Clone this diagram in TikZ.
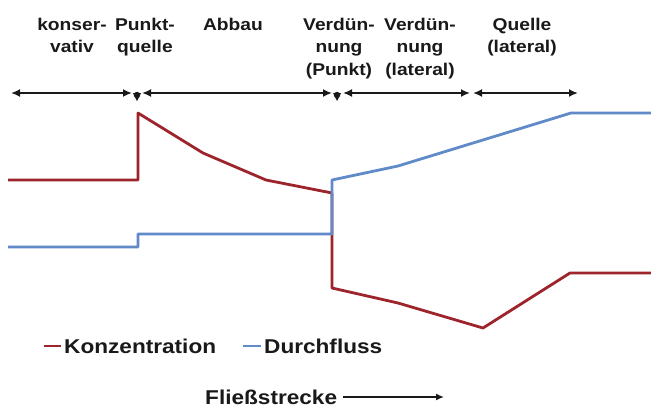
\documentclass[tikz,border=0pt]{standalone}
\usepackage{fontspec}
\setmainfont{Liberation Sans}[FakeStretch=1.13]
\usetikzlibrary{arrows.meta}
\definecolor{konz}{RGB}{158,36,44}
\definecolor{durch}{RGB}{96,138,200}
\definecolor{txt}{RGB}{25,25,25}
\tikzset{
  lbl/.style={anchor=north,align=center,inner sep=0pt,text=txt,
    font=\fontsize{17}{22.5}\selectfont\bfseries},
  leg/.style={anchor=west,inner sep=0pt,text=txt,
    font=\fontsize{20}{24}\selectfont\bfseries},
  span/.style={txt,line width=2pt,{Latex[length=9pt,width=8pt]}-{Latex[length=9pt,width=8pt]}},
  mark dot/.style={fill=txt,draw=none},
  kline/.style={konz,line width=2.8pt,line join=round},
  dline/.style={durch,line width=2.8pt,line join=round},
}
\begin{document}
\begin{tikzpicture}[x=1pt,y=-1pt]
\useasboundingbox[fill=white] (0,0) rectangle (651,410);
% header labels
\node[lbl] (l1) at (72,17.5) {konser-\\vativ};
\node[lbl] (l2) at (145,17.5) {Punkt-\\quelle};
\node[lbl] (l3) at (233,17.5) {Abbau};
\node[lbl] (l4) at (339,17.5) {Verdün-\\nung\\(Punkt)};
\node[lbl] (l5) at (420,17.5) {Verdün-\\nung\\(lateral)};
\node[lbl] (l6) at (522,17.5) {Quelle\\(lateral)};
% span arrows
\coordinate (a1) at (11,93); \coordinate (b1) at (132,93);
\coordinate (a2) at (142,93); \coordinate (b2) at (332,93);
\coordinate (a3) at (343,93); \coordinate (b3) at (470,93);
\coordinate (a4) at (473,93); \coordinate (b4) at (578,93);
\draw[span] (a1) -- (b1);
\draw[span] (a2) -- (b2);
\draw[span] (a3) -- (b3);
\draw[span] (a4) -- (b4);
\fill[mark dot] (133,93) -- (141,93) -- (137,101) -- cycle;
\fill[mark dot] (137,95) circle (3.2);
\fill[mark dot] (333,93) -- (341,93) -- (337,101) -- cycle;
\fill[mark dot] (337,95) circle (3.2);
% Konzentration
\draw[kline] (8,180) -- (138,180) -- (138,113) -- (203,153) -- (266,180) -- (332,193)
  -- (332,288) -- (398,303) -- (483,328) -- (570,273) -- (651,273);
% Durchfluss
\draw[dline] (8,247) -- (138,247) -- (138,234) -- (332,234) -- (332,180)
  -- (398,166) -- (571,113) -- (651,113);
% legend
\draw[konz,line width=2.8pt] (44,346) -- (61,346);
\node[leg] (k) at (64,346) {Konzentration};
\draw[durch,line width=2.8pt] (243,346) -- (261,346);
\node[leg] (d) at (264,346) {Durchfluss};
% flow direction
\node[leg] (f) at (205,397) {Fließstrecke};
\coordinate (fe) at (444,397);
\draw[line width=1.6pt,-{Latex[length=8pt,width=7pt]},txt] ([xshift=6pt]f.east) -- (fe);
\end{tikzpicture}
\end{document}
